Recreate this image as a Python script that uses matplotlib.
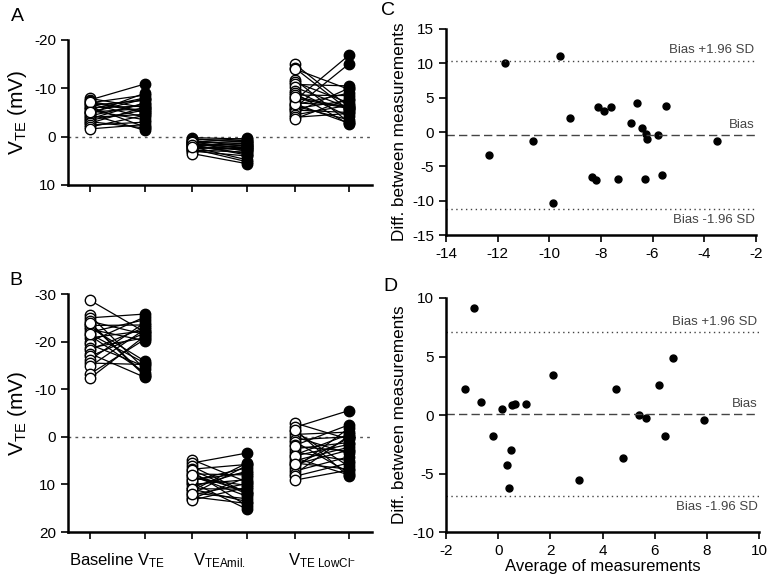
import matplotlib
matplotlib.use('Agg')
import matplotlib.pyplot as plt

plt.rcParams['font.family'] = ['Liberation Sans', 'DejaVu Sans']
plt.rcParams['mathtext.fontset'] = 'custom'
plt.rcParams['mathtext.rm'] = 'Liberation Sans'
plt.rcParams['mathtext.it'] = 'Liberation Sans'
plt.rcParams['mathtext.default'] = 'regular'
plt.rcParams['axes.unicode_minus'] = False

# paired VTE values (mV), panel A
a_base_open = [-7.9, -7.6, -7.3, -7.0, -6.8, -6.5, -6.2, -6.0, -5.7, -5.4, -5.1, -4.8,
               -4.6, -4.3, -4.0, -3.7, -3.4, -3.1, -2.8, -2.4, -2.0, -1.6, -7.1, -5.0]
a_base_closed = [-6.0, -10.9, -5.2, -8.6, -4.0, -7.5, -2.0, -6.3, -8.0, -3.5, -5.8, -9.0,
                 -1.3, -6.8, -4.6, -7.0, -5.5, -1.8, -6.1, -3.0, -4.4, -2.5, -5.0, -7.8]
a_amil_open = [0.2, 0.4, 0.6, 0.8, 1.0, 1.1, 1.3, 1.4, 1.5, 1.6, 1.8, 1.9,
               2.0, 2.1, 2.3, 2.5, 2.6, 2.8, 3.0, 3.2, 3.5, 1.2, 1.7, 2.2]
a_amil_closed = [0.5, 1.2, 0.8, 2.0, 1.5, 2.6, 1.0, 3.0, 1.8, 2.2, 3.5, 1.4,
                 2.8, 4.8, 2.4, 5.2, 1.7, 3.2, 4.0, 2.1, 5.6, 0.3, 3.8, 2.5]
a_lowcl_open = [-15.0, -14.2, -14.0, -11.8, -11.3, -10.8, -10.2, -9.5, -9.0, -8.6, -8.0, -7.5,
                -7.0, -6.6, -6.3, -6.0, -5.8, -5.5, -5.0, -4.5, -4.0, -3.7, -6.8, -8.3]
a_lowcl_closed = [-6.2, -5.5, -9.8, -3.0, -7.0, -10.5, -6.0, -4.2, -2.6, -8.5, -5.8, -16.8,
                  -6.4, -9.0, -3.5, -15.0, -7.5, -5.0, -10.0, -6.5, -4.8, -7.8, -2.8, -6.0]

# panel B
b_base_open = [-28.7, -25.5, -25.0, -24.3, -23.8, -23.4, -23.0, -22.6, -22.0, -21.3, -20.8, -20.0,
               -19.4, -18.7, -18.3, -17.5, -16.9, -16.2, -15.5, -14.8, -13.2, -12.3, -21.6, -24.0]
b_base_closed = [-22.0, -14.2, -25.8, -21.5, -12.8, -23.5, -15.9, -20.2, -24.6, -13.5, -22.3, -25.2,
                 -14.8, -20.8, -23.0, -12.5, -21.8, -24.0, -15.2, -22.6, -20.5, -21.2, -15.5, -13.0]
b_amil_open = [4.8, 5.5, 6.2, 6.8, 7.3, 7.8, 8.2, 8.7, 9.2, 9.6, 10.0, 10.5,
               10.9, 11.3, 11.8, 12.2, 12.6, 13.0, 13.3, 7.0, 9.0, 11.0, 12.0, 8.0]
b_amil_closed = [9.5, 3.4, 11.8, 5.8, 14.5, 8.0, 12.5, 10.2, 6.5, 15.2, 9.0, 7.2,
                 11.0, 5.5, 13.0, 9.8, 14.0, 8.5, 10.6, 12.0, 7.6, 13.6, 6.0, 11.5]
b_lowcl_open = [-2.9, -2.0, -1.2, -0.5, 0.0, 0.6, 1.0, 1.8, 2.5, 3.2, 3.8, 4.4,
                5.0, 5.5, 6.0, 6.6, 7.2, 7.8, 8.3, 9.1, 2.0, 4.0, -1.5, 5.8]
b_lowcl_closed = [0.5, -5.5, 6.2, -1.0, 3.5, 0.0, 7.5, -2.5, 1.2, 5.0, -0.5, 8.0,
                  2.2, 6.8, 0.3, -1.8, 4.2, -0.2, 5.5, 7.0, 3.0, 1.6, 8.3, 2.8]

group_labels = ['Baseline V$_{TE}$', 'V$_{TEAmil.}$', 'V$_{TE\\ LowCl^{-}}$']

# Bland-Altman, panel C
c_avg = [-12.35, -11.7, -10.65, -9.85, -9.6, -9.2, -8.35, -8.2, -8.1, -7.9, -7.6,
         -7.35, -6.85, -6.6, -6.4, -6.3, -6.25, -6.2, -5.8, -5.65, -5.5, -3.5]
c_diff = [-3.3, 10.0, -1.3, -10.3, 11.0, 2.0, -6.5, -7.0, 3.6, 3.0, 3.6,
          -6.9, 1.3, 4.2, 0.6, -6.85, -0.3, -1.0, -0.45, -6.3, 3.8, -1.25]
c_bias, c_hi, c_lo = -0.39, 10.4, -11.2

# panel D
d_avg = [-1.28, -0.94, -0.65, -0.19, 0.16, 0.35, 0.41, 0.5, 0.52, 0.66, 1.05,
         2.1, 3.11, 4.5, 4.77, 5.39, 5.66, 6.15, 6.4, 6.7, 7.91]
d_diff = [2.23, 9.14, 1.11, -1.77, 0.51, -4.29, -6.2, -2.97, 0.83, 0.91, 0.91,
          3.43, -5.57, 2.23, -3.71, 0.03, -0.29, 2.54, -1.77, 4.86, -0.4]
d_bias, d_hi, d_lo = 0.11, 7.09, -6.91

xpos = [0, 1, 1.86, 2.86, 3.73, 4.71]
centers = [0.5, 2.36, 4.22]

fig = plt.figure(figsize=(7.69, 5.81), dpi=100)
axA = fig.add_axes([0.0884, 0.6816, 0.395, 0.2496])
axB = fig.add_axes([0.0884, 0.0843, 0.395, 0.4096])
axC = fig.add_axes([0.580, 0.5955, 0.403, 0.3546])
axD = fig.add_axes([0.580, 0.0843, 0.407, 0.4028])


def style(ax):
    for s in ['top', 'right']:
        ax.spines[s].set_visible(False)
    for s in ['left', 'bottom']:
        ax.spines[s].set_linewidth(1.8)
    ax.tick_params(direction='out', length=5, width=1.2, labelsize=11)


def paired(ax, groups):
    for i, (op, cl) in enumerate(groups):
        x0, x1 = xpos[2 * i], xpos[2 * i + 1]
        for a, b in zip(op, cl):
            ax.plot([x0, x1], [a, b], color='black', lw=0.9, zorder=1)
        ax.plot([x0] * len(op), op, 'o', ms=7.5, mfc='white', mec='black', mew=1.0, ls='none', zorder=2)
        ax.plot([x1] * len(cl), cl, 'o', ms=7.5, mfc='black', mec='black', ls='none', zorder=2)
    ax.axhline(0, color='#555555', lw=1.0, ls=(0, (2, 3)), zorder=0)
    ax.set_xlim(-0.4, 5.13)
    ax.set_xticks(xpos)
    ax.set_xticklabels([])
    ax.set_ylabel('V$_{TE}$ (mV)', fontsize=15)
    style(ax)


paired(axA, [(a_base_open, a_base_closed), (a_amil_open, a_amil_closed), (a_lowcl_open, a_lowcl_closed)])
axA.set_ylim(10, -20)
axA.set_yticks([-20, -10, 0, 10])

paired(axB, [(b_base_open, b_base_closed), (b_amil_open, b_amil_closed), (b_lowcl_open, b_lowcl_closed)])
axB.set_ylim(20, -30)
axB.set_yticks([-30, -20, -10, 0, 10, 20])
axB.set_xticks(centers, minor=True)
axB.set_xticklabels(group_labels, minor=True, fontsize=12)
axB.tick_params(axis='x', which='minor', length=0, pad=14)


def bland(ax, avg, diff, bias, hi, lo):
    ax.plot(avg, diff, 'o', ms=5, color='black', ls='none')
    ax.axhline(hi, color='#444444', lw=1.0, ls=(0, (1, 2.5)))
    ax.axhline(lo, color='#444444', lw=1.0, ls=(0, (1, 2.5)))
    ax.axhline(bias, color='#444444', lw=1.0, ls=(0, (6, 3)))
    tr = ax.get_yaxis_transform()
    for val, txt, dy, va in [(hi, 'Bias +1.96 SD', 3, 'bottom'), (bias, 'Bias', 3, 'bottom'),
                             (lo, 'Bias -1.96 SD', -4, 'top')]:
        ax.annotate(txt, (0.995, val), xycoords=tr, xytext=(0, dy), textcoords='offset points',
                    ha='right', va=va, fontsize=9.5, color='#444444')
    ax.set_ylabel('Diff. between measurements', fontsize=12.3)
    style(ax)


bland(axC, c_avg, c_diff, c_bias, c_hi, c_lo)
axC.set_xlim(-14, -2)
axC.set_ylim(-15, 15)
axC.set_xticks(range(-14, -1, 2))
axC.set_yticks(range(-15, 16, 5))

bland(axD, d_avg, d_diff, d_bias, d_hi, d_lo)
axD.set_xlim(-2, 10)
axD.set_ylim(-10, 10)
axD.set_xticks(range(-2, 11, 2))
axD.set_yticks(range(-10, 11, 5))
axD.set_xlabel('Average of measurements', fontsize=12, labelpad=1)

for lab, x, y in [('A', 0.014, 0.987), ('B', 0.012, 0.531), ('C', 0.496, 0.997), ('D', 0.499, 0.521)]:
    fig.text(x, y, lab, fontsize=14, ha='left', va='top')

fig.savefig('out.png', dpi=100)
